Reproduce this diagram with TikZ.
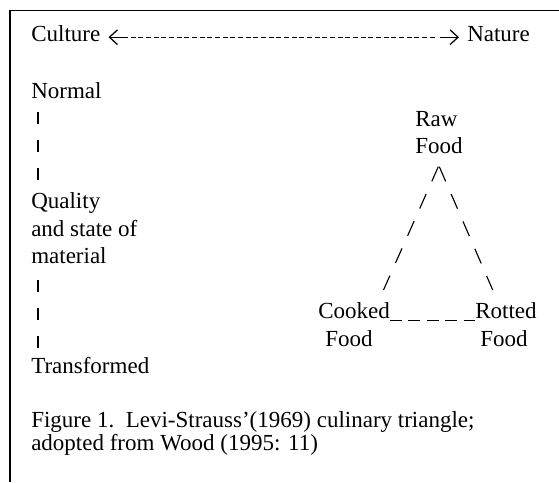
\documentclass[tikz,border=0pt]{standalone}
\usepackage{fontspec}
\setmainfont{Liberation Serif}
\usetikzlibrary{arrows.meta,calc}

\begin{document}
\begin{tikzpicture}[x=0.75pt,y=0.75pt,yscale=-1,xscale=1,
  every node/.style={inner sep=0pt,anchor=base west,font=\fontsize{17.25}{20}\selectfont},
  frame/.style={line width=1.2pt},
  hyphens/.style={line width=0.95pt,dash pattern=on 3.75pt off 2pt},
  tipline/.style={line width=0.95pt,-{Straight Barb[length=6pt,width=11pt]}},
  bars/.style={line width=1.3pt,dash pattern=on 9pt off 12pt},
  slashes/.style={line width=0.85pt,dash pattern=on 12pt off 10.35pt},
  unders/.style={line width=0.8pt,dash pattern=on 9pt off 4.8pt}]
\useasboundingbox (0,0) rectangle (559,482);

%Straight Lines [frame]
\draw [frame] (559,10.3) -- (10,10.3) -- (10,482) ;

% Text Node
\draw (31,41.7) node (culture) {Culture};
% Text Node
\draw (467,41.7) node (nature) {Nature};
% Text Node
\draw (31,98.5) node (normal) {Normal};
% Text Node
\draw (31,208.5) node (quality) {Quality};
% Text Node
\draw (31,236) node (state) {and state of};
% Text Node
\draw (31,263.5) node (material) {material};
% Text Node
\draw (31,373.5) node (transformed) {Transformed};
% Text Node
\draw (415,126) node (raw) {Raw};
% Text Node
\draw (415,153.5) node (rawfood) {Food};
% Text Node
\draw (318,318.5) node (cooked) {Cooked};
% Text Node
\draw (325,346) node (cookedfood) {Food};
% Text Node
\draw (475,318.5) node (rotted) {Rotted};
% Text Node
\draw (480,346) node (rottedfood) {Food};
% Text Node
\draw (31,427) node (caption) {Figure 1.\ \ Levi-Strauss’(1969) culinary triangle;};
% Text Node
\draw (31,450) node (source) {adopted from Wood (1995: 11)};

%Culture <--> Nature
\draw [tipline] ($(culture.base east)+(27,-4.5)$) -- ++(-19,0) ;
\draw [tipline] ($(nature.base west)+(-27,-4.5)$) -- ++(19,0) ;
\draw [hyphens] ($(culture.base east)+(30,-4.5)$) -- ($(nature.base west)+(-30,-4.5)$) ;

%Normal -- Quality, material -- Transformed
\draw [bars] ($(normal.base west)+(7.3,13.5)$) -- ($(quality.base west)+(7.3,-28.5)$) ;
\draw [bars] ($(material.base west)+(7.3,16.5)$) -- ($(transformed.base west)+(7.3,-25.5)$) ;

%Raw Food -- Cooked, Raw Food -- Rotted
\draw [slashes] ($(rawfood.base west)+(23.3,13.2)$) -- ($(cooked.base east)+(-6.6,-28.5)$) ;
\draw [slashes] ($(rawfood.base west)+(24.3,13.2)$) -- ($(rotted.base west)+(17.7,-28.5)$) ;

%Cooked -- Rotted
\draw [unders] ($(cooked.base east)+(0,2)$) -- ($(rotted.base west)+(0,2)$) ;

\end{tikzpicture}
\end{document}
